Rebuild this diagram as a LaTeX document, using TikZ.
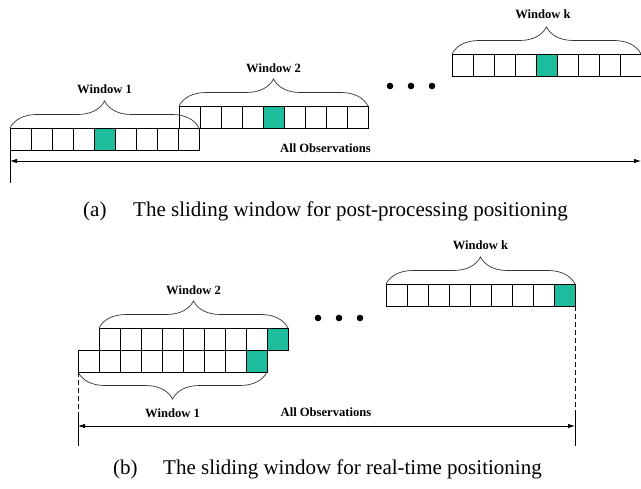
\documentclass[tikz,border=0pt]{standalone}
\usepackage{fontspec}
\setmainfont{Liberation Serif}
\usepackage{xcolor}
\usetikzlibrary{arrows.meta,decorations.pathreplacing,positioning}
\definecolor{obsgreen}{RGB}{28,188,156}

\begin{document}
\begin{tikzpicture}[x=1pt,y=-1pt,
    cell/.style={draw,line width=0.7pt,minimum width=21pt,minimum height=22pt,inner sep=0pt,outer sep=0pt},
    cur/.style={cell,fill=obsgreen},
    brc/.style={decorate,decoration={brace,amplitude=27pt},line width=0.7pt,black!80},
    lbl/.style={font=\fontsize{12.6}{14}\selectfont\bfseries,inner sep=0pt},
    captxt/.style={font=\fontsize{21}{25}\selectfont,anchor=base west,inner sep=0pt},
    dot/.style={circle,fill,inner sep=0pt,minimum size=6.6pt},
    obs/.style={line width=0.8pt,{Latex[length=7pt,width=4.5pt]}-{Latex[length=7pt,width=4.5pt]}},
    cut/.style={line width=0.8pt,dash pattern=on 5pt off 3pt}]
\useasboundingbox (0,0) rectangle (641,489);

% (a) post-processing: every window marks its middle epoch
\foreach \w/\x/\y in {1/10/128, 2/179/106, k/452/54}
  \foreach \i in {1,...,9}{
    \ifnum\i=5 \def\st{cur}\else\def\st{cell}\fi
    \node[\st,anchor=north west] (a\w-\i) at ({\x+(\i-1)*21},\y) {};
  }
\draw[brc] (a1-1.north west) -- (a1-9.north east);
\draw[brc] (a2-1.north west) -- (a2-9.north east);
\draw[brc] (ak-1.north west) -- (ak-9.north east);
\node[lbl] (la1) at (104.5,89) {Window 1};
\node[lbl] (la2) at (273.5,68) {Window 2};
\node[lbl] (lak) at (543,14) {Window k};
\node[dot] (da1) at (390,86) {};
\node[dot] (da2) at (411,86) {};
\node[dot] (da3) at (432,86) {};
\coordinate (al) at (10,161);
\coordinate (ar) at (641,161);
\coordinate (at) at (10,183);
\draw[line width=0.8pt] (a1-1.south west) -- (at);
\draw[obs] (al) -- (ar);
\node[lbl] (aobs) at (325.5,148) {All Observations};
\node[captxt] (capa) at (83,217) {(a)};
\node[captxt] (capat) at (133,217) {The sliding window for post-processing positioning};

% (b) real-time: every window marks its newest epoch
\foreach \w/\x/\y in {1/78/350, 2/99/328, k/386/284}
  \foreach \i in {1,...,9}{
    \ifnum\i=9 \def\st{cur}\else\def\st{cell}\fi
    \node[\st,anchor=north west] (b\w-\i) at ({\x+(\i-1)*21},\y) {};
  }
\draw[brc] (b2-1.north west) -- (b2-9.north east);
\draw[brc] (bk-1.north west) -- (bk-9.north east);
\draw[brc] (b1-9.south east) -- (b1-1.south west);
\node[lbl] (lb2) at (193.5,290) {Window 2};
\node[lbl] (lbk) at (480.5,245) {Window k};
\node[lbl] (lb1) at (172.5,413) {Window 1};
\node[dot] (db1) at (318,318) {};
\node[dot] (db2) at (339,318) {};
\node[dot] (db3) at (360,318) {};
\coordinate (bl) at (78,426);
\coordinate (br) at (575,426);
\coordinate (bld) at (78,412);
\coordinate (brd) at (575,412);
\coordinate (blt) at (78,446);
\coordinate (brt) at (575,446);
\draw[cut] (b1-1.south west) -- (bld);
\draw[cut] (bk-9.south east) -- (brd);
\draw[line width=0.8pt] (bld) -- (blt);
\draw[line width=0.8pt] (brd) -- (brt);
\draw[obs] (bl) -- (br);
\node[lbl] (bobs) at (326,412) {All Observations};
\node[captxt] (capb) at (113,475) {(b)};
\node[captxt] (capbt) at (163,475) {The sliding window for real-time positioning};
\end{tikzpicture}
\end{document}
